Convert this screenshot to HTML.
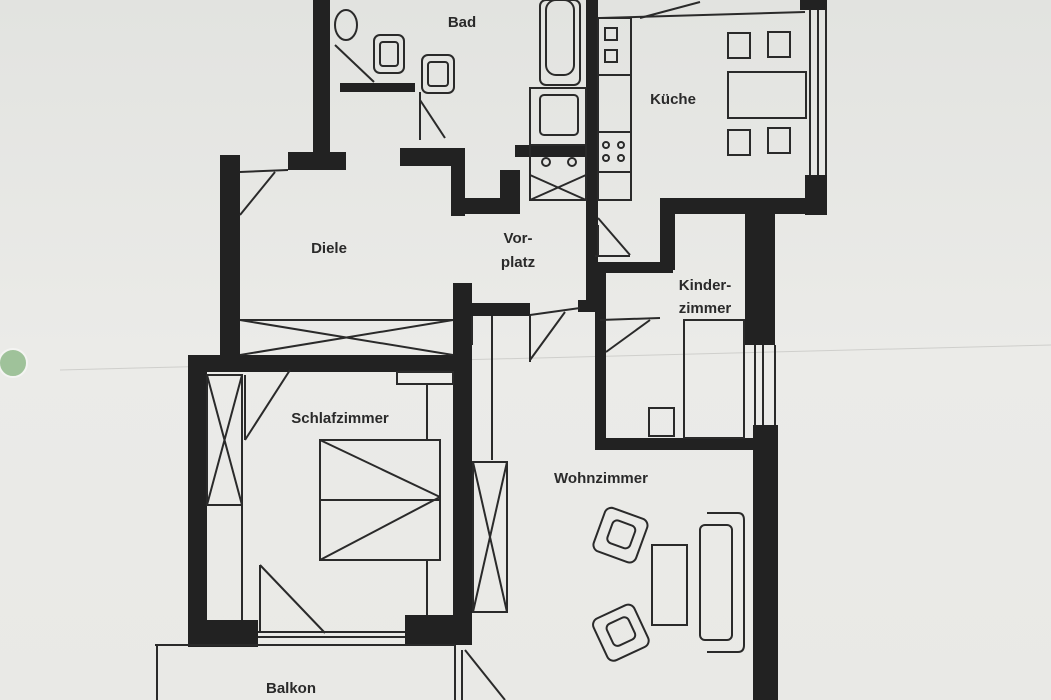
<!DOCTYPE html>
<html><head><meta charset="utf-8"><style>
html,body{margin:0;padding:0;background:#e8e8e5;}
svg{display:block}
text{font-family:"Liberation Sans",sans-serif;font-size:15px;font-weight:bold;fill:#2a2a2a}
</style></head><body>
<svg width="1051" height="700" viewBox="0 0 1051 700" xmlns="http://www.w3.org/2000/svg">
<defs><linearGradient id="bg" x1="0" y1="0" x2="0" y2="1"><stop offset="0" stop-color="#e2e3e0"/><stop offset="0.5" stop-color="#ebebe8"/><stop offset="1" stop-color="#e9e9e6"/></linearGradient></defs>
<rect width="1051" height="700" fill="url(#bg)"/>
<circle cx="13" cy="363" r="14" fill="#9fc29a" stroke="#f4f4f2" stroke-width="2"/>
<line x1="60" y1="370" x2="1051" y2="345" stroke="#cfcfcc" stroke-width="1"/>
<g fill="#222">
<!-- WC / Bad -->
<rect x="313" y="0" width="17" height="165"/>
<rect x="288" y="152" width="58" height="18"/>
<rect x="340" y="83" width="75" height="9"/>
<rect x="400" y="148" width="55" height="18"/>
<rect x="451" y="148" width="14" height="68"/>
<rect x="451" y="198" width="69" height="16"/>
<rect x="500" y="170" width="20" height="30"/>
<rect x="515" y="145" width="80" height="12"/>
<rect x="586" y="0" width="12" height="300"/>
<!-- Diele -->
<rect x="220" y="155" width="20" height="205"/>
<rect x="188" y="355" width="280" height="17"/>
<rect x="453" y="283" width="19" height="362"/>
<rect x="472" y="303" width="58" height="13"/>
<rect x="578" y="300" width="22" height="12"/>
<!-- Schlafzimmer -->
<rect x="188" y="355" width="19" height="292"/>
<rect x="188" y="620" width="70" height="27"/>
<rect x="405" y="615" width="65" height="30"/>
<!-- Kitchen -->
<rect x="660" y="198" width="165" height="16"/>
<rect x="805" y="175" width="22" height="40"/>
<rect x="800" y="0" width="27" height="10"/>
<rect x="660" y="198" width="15" height="72"/>
<rect x="595" y="262" width="78" height="11"/>
<!-- Kinderzimmer -->
<rect x="595" y="265" width="11" height="185"/>
<rect x="595" y="438" width="165" height="12"/>
<rect x="745" y="205" width="30" height="140"/>
<rect x="753" y="425" width="25" height="275"/>
</g>
<g fill="none" stroke="#2a2a2a" stroke-width="2">
<!-- kitchen window lines -->
<line x1="600" y1="18" x2="805" y2="12"/>
<line x1="640" y1="18" x2="700" y2="2"/>
<line x1="810" y1="10" x2="810" y2="175"/><line x1="818" y1="10" x2="818" y2="175"/><line x1="826" y1="10" x2="826" y2="175"/>
<!-- kitchen counter -->
<rect x="598" y="18" width="33" height="182"/>
<line x1="598" y1="75" x2="631" y2="75"/><line x1="598" y1="132" x2="631" y2="132"/><line x1="598" y1="172" x2="631" y2="172"/>
<rect x="605" y="28" width="12" height="12"/><rect x="605" y="50" width="12" height="12"/>
<circle cx="606" cy="145" r="3"/><circle cx="621" cy="145" r="3"/><circle cx="606" cy="158" r="3"/><circle cx="621" cy="158" r="3"/>
<!-- table -->
<rect x="728" y="33" width="22" height="25"/><rect x="768" y="32" width="22" height="25"/>
<rect x="728" y="72" width="78" height="46"/>
<rect x="728" y="130" width="22" height="25"/><rect x="768" y="128" width="22" height="25"/>
<!-- Bad -->
<rect x="540" y="0" width="40" height="85" rx="6"/>
<rect x="546" y="0" width="28" height="75" rx="10"/>
<rect x="530" y="88" width="56" height="57"/>
<rect x="540" y="95" width="38" height="40" rx="4"/>
<rect x="530" y="145" width="56" height="55"/>
<circle cx="546" cy="162" r="4"/><circle cx="572" cy="162" r="4"/>
<line x1="530" y1="175" x2="586" y2="200"/><line x1="586" y1="175" x2="530" y2="200"/>
<rect x="422" y="55" width="32" height="38" rx="6"/><rect x="428" y="62" width="20" height="24" rx="3"/>
<rect x="374" y="35" width="30" height="38" rx="6"/><rect x="380" y="42" width="18" height="24" rx="3"/>
<ellipse cx="346" cy="25" rx="11" ry="15"/>
<line x1="335" y1="45" x2="374" y2="82"/>
<line x1="420" y1="92" x2="420" y2="140"/><line x1="420" y1="100" x2="445" y2="138"/>
<!-- Diele doors -->
<line x1="240" y1="172" x2="288" y2="170"/><line x1="240" y1="215" x2="275" y2="172"/>
<line x1="240" y1="320" x2="453" y2="320"/><line x1="240" y1="355" x2="453" y2="320"/><line x1="240" y1="320" x2="453" y2="355"/>
<line x1="598" y1="225" x2="598" y2="255"/><line x1="598" y1="218" x2="630" y2="255"/><line x1="595" y1="256" x2="630" y2="256"/>
<line x1="530" y1="315" x2="580" y2="308"/><line x1="530" y1="315" x2="530" y2="362"/><line x1="530" y1="360" x2="565" y2="312"/>
<line x1="600" y1="320" x2="660" y2="318"/><line x1="606" y1="352" x2="650" y2="320"/>
<line x1="472" y1="316" x2="472" y2="345"/><line x1="492" y1="316" x2="492" y2="460"/>
<!-- Kinder bed -->
<rect x="684" y="320" width="60" height="118"/>
<rect x="649" y="408" width="25" height="28"/>
<line x1="755" y1="345" x2="755" y2="425"/><line x1="763" y1="345" x2="763" y2="425"/><line x1="775" y1="345" x2="775" y2="425"/>
<!-- Schlaf -->
<rect x="207" y="375" width="35" height="130"/>
<line x1="207" y1="375" x2="242" y2="505"/><line x1="242" y1="375" x2="207" y2="505"/>
<line x1="242" y1="505" x2="242" y2="620"/>
<line x1="245" y1="375" x2="245" y2="440"/><line x1="245" y1="440" x2="290" y2="370"/>
<rect x="397" y="372" width="56" height="12"/><line x1="427" y1="384" x2="427" y2="440"/>
<rect x="320" y="440" width="120" height="120"/>
<line x1="320" y1="500" x2="440" y2="500"/>
<line x1="320" y1="440" x2="440" y2="497"/><line x1="320" y1="560" x2="440" y2="497"/>
<line x1="427" y1="560" x2="427" y2="615"/>
<line x1="260" y1="565" x2="260" y2="632"/><line x1="260" y1="565" x2="325" y2="633"/>
<line x1="258" y1="632" x2="405" y2="632"/><line x1="258" y1="637" x2="405" y2="637"/>
<rect x="473" y="462" width="34" height="150"/>
<line x1="473" y1="462" x2="507" y2="612"/><line x1="507" y1="462" x2="473" y2="612"/>
<!-- Balkon -->
<line x1="155" y1="645" x2="455" y2="645"/><line x1="157" y1="645" x2="157" y2="700"/>
<line x1="455" y1="645" x2="455" y2="700"/><line x1="462" y1="650" x2="462" y2="700"/>
<line x1="465" y1="650" x2="505" y2="700"/>
<!-- Wohn furniture -->
<rect x="652" y="545" width="35" height="80"/>
<rect x="700" y="525" width="32" height="115" rx="5"/>
<path d="M707 513 H738 Q744 513 744 520 V645 Q744 652 738 652 H707"/>
<g transform="rotate(20 620 535)"><rect x="598" y="512" width="45" height="46" rx="7"/><rect x="609" y="522" width="24" height="24" rx="5"/></g>
<g transform="rotate(-25 620 632)"><rect x="598" y="610" width="45" height="46" rx="7"/><rect x="609" y="620" width="24" height="24" rx="5"/></g>
</g>
<text x="462" y="27" text-anchor="middle">Bad</text>
<text x="673" y="104" text-anchor="middle">Küche</text>
<text x="329" y="253" text-anchor="middle">Diele</text>
<text x="518" y="243" text-anchor="middle">Vor-</text>
<text x="518" y="267" text-anchor="middle">platz</text>
<text x="705" y="290" text-anchor="middle">Kinder-</text>
<text x="705" y="313" text-anchor="middle">zimmer</text>
<text x="340" y="423" text-anchor="middle">Schlafzimmer</text>
<text x="601" y="483" text-anchor="middle">Wohnzimmer</text>
<text x="291" y="693" text-anchor="middle">Balkon</text>
</svg>
</body></html>
